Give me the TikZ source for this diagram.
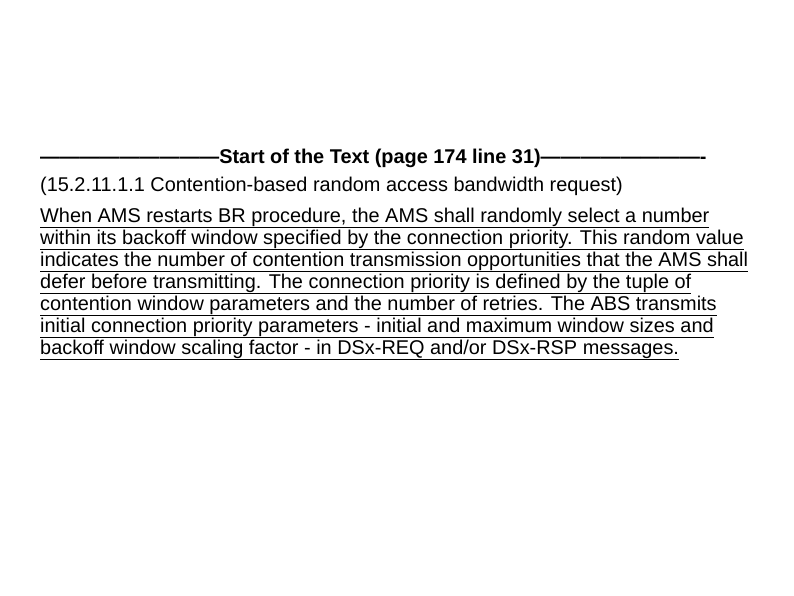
\documentclass[tikz,border=0pt]{standalone}
\usepackage{fontspec}
\setmainfont{Liberation Sans}[Ligatures=ResetAll]
\begin{document}
\begin{tikzpicture}[x=1pt,y=-1pt,txt/.style={anchor=base west,inner sep=0pt,font=\fontsize{19.9}{22}\selectfont}]
\useasboundingbox (0,0) rectangle (794,595);
\node[txt,font=\fontsize{19.9}{22}\selectfont\bfseries] (t) at (40,163) {---------------------------Start of the Text (page 174 line 31)-------------------------};
\node[txt] (p) at (40,191) {(15.2.11.1.1 Contention-based random access bandwidth request)};
\foreach \s [count=\i] in {
{When AMS restarts BR procedure, the AMS shall randomly select a number},
{within its backoff window specified by the connection priority. This random value},
{indicates the number of contention transmission opportunities that the AMS shall},
{defer before transmitting. The connection priority is defined by the tuple of},
{contention window parameters and the number of retries. The ABS transmits},
{initial connection priority parameters - initial and maximum window sizes and},
{backoff window scaling factor - in DSx-REQ and/or DSx-RSP messages.}}
\node[txt] (l\i) at (40,200+22*\i) {\underline{\s}};
\end{tikzpicture}
\end{document}
